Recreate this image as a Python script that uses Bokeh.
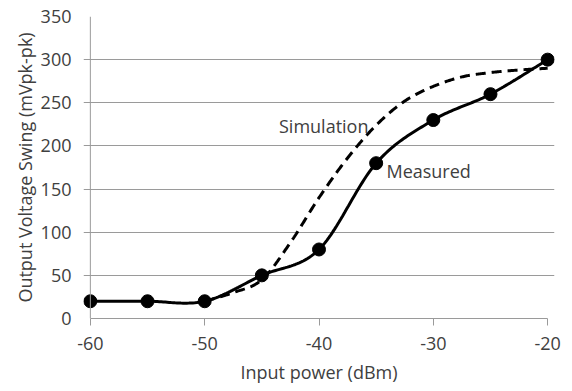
import numpy as np
from bokeh.plotting import figure
from bokeh.models import FixedTicker, Range1d, Span
from bokeh.core.properties import value
from bokeh.embed import file_html
from bokeh.resources import INLINE

# ---- data ----
meas_x = [-60, -55, -50, -45, -40, -35, -30, -25, -20]
meas_y = [20, 20, 20, 50, 80, 180, 230, 260, 300]

sim_x = [-50, -47.5, -45, -42.5, -40, -37.5, -35, -32.5, -30, -27.5, -25, -22.5, -20]
sim_y = [20, 30, 45, 88, 140, 186, 224, 252, 269, 280, 285, 288, 290]

x_ticks = [-60, -50, -40, -30, -20]
y_ticks = [0, 50, 100, 150, 200, 250, 300, 350]

x_title = "Input power (dBm)"
y_title = "Output Voltage Swing (mVpk-pk)"
sim_label = "Simulation"
meas_label = "Measured"


def smooth(xs, ys, n=30):
    """Catmull-Rom (Excel-like) smoothing through the given points."""
    P = np.column_stack([xs, ys]).astype(float)
    P = np.vstack([P[0], P, P[-1]])
    out = []
    t = np.linspace(0, 1, n)
    for i in range(1, len(P) - 2):
        p0, p1, p2, p3 = P[i - 1], P[i], P[i + 1], P[i + 2]
        c1 = p1 + (p2 - p0) / 6.0
        c2 = p2 - (p3 - p1) / 6.0
        seg = ((1 - t) ** 3)[:, None] * p1 + (3 * (1 - t) ** 2 * t)[:, None] * c1 \
            + (3 * (1 - t) * t ** 2)[:, None] * c2 + (t ** 3)[:, None] * p2
        out.append(seg if i == 1 else seg[1:])
    S = np.vstack(out)
    return S[:, 0], S[:, 1]


FONT = "Open Sans"
TXT = "#404040"
GRID = "#9a9a9a"

p = figure(width=571, height=390, output_backend="svg", toolbar_location=None,
           x_range=Range1d(-60.6, -19.4), y_range=Range1d(0, 350),
           min_border_left=83, min_border_right=17, min_border_top=16,
           min_border_bottom=72)
p.outline_line_color = None
p.background_fill_color = "white"
p.border_fill_color = "white"

# grid
p.xgrid.grid_line_color = None
p.ygrid.grid_line_color = GRID
p.ygrid.grid_line_width = 1
p.ygrid.bounds = (-60.6, -20)
p.ygrid.ticker = FixedTicker(ticks=y_ticks)

# axes
p.xaxis.ticker = FixedTicker(ticks=x_ticks)
p.yaxis.ticker = FixedTicker(ticks=y_ticks)
p.xaxis.major_label_overrides = {t: str(t) for t in x_ticks}
p.xaxis.bounds = (-60, -20)
p.xaxis.axis_line_color = GRID
p.xaxis.major_tick_line_color = GRID
p.xaxis.major_tick_out = 7
p.xaxis.major_tick_in = 0
p.xaxis.minor_tick_line_color = None
p.xaxis.minor_tick_out = 0
p.xaxis.minor_tick_in = 0
p.yaxis.axis_line_color = None
p.yaxis.major_tick_line_color = None
p.yaxis.minor_tick_line_color = None
p.yaxis.major_tick_out = 0
p.yaxis.major_tick_in = 0
p.yaxis.minor_tick_out = 0
p.yaxis.minor_tick_in = 0
p.yaxis.major_label_standoff = 12
p.xaxis.major_label_standoff = 11
for ax in (p.xaxis, p.yaxis):
    ax.major_label_text_font = FONT
    ax.major_label_text_font_size = "18px"
    ax.major_label_text_color = TXT
    ax.axis_label_text_font = FONT
    ax.axis_label_text_font_size = "18px"
    ax.axis_label_text_font_style = "normal"
    ax.axis_label_text_color = TXT
p.xaxis.axis_label = x_title
p.yaxis.axis_label = y_title
p.xaxis.axis_label_standoff = 7
p.yaxis.axis_label_standoff = 1

# vertical axis line at x=-60
p.add_layout(Span(location=x_ticks[0], dimension="height", line_color=GRID, line_width=1))

# series
sx, sy = smooth(sim_x, sim_y)
p.line(sx, sy, line_color="black", line_width=3, line_dash="10 6")

mx, my = smooth(meas_x, meas_y)
p.line(mx, my, line_color="black", line_width=3)
p.scatter(meas_x, meas_y, size=13, marker="circle", fill_color="black", line_color="black")

# labels
p.text(x=[-43.5], y=[223], text=[sim_label], text_font=value(FONT), text_font_size="18px",
       text_color=TXT, text_baseline="middle", text_align="left")
p.text(x=[-34.1], y=[171], text=[meas_label], text_font=value(FONT), text_font_size="18px",
       text_color=TXT, text_baseline="middle", text_align="left")

open("out.html", "w").write(file_html(p, INLINE))
